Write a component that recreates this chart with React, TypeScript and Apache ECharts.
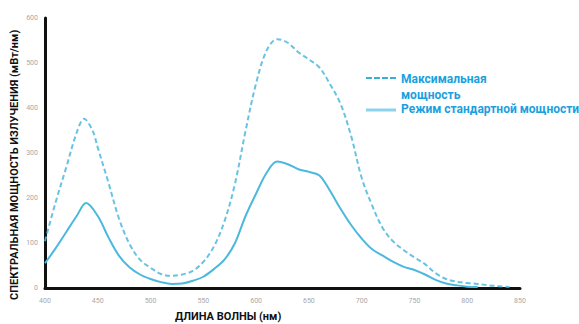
import React, { useEffect, useRef } from "react";
import * as echarts from "echarts";

const xTicks = [400, 450, 500, 550, 600, 650, 700, 750, 800, 850];
const yTicks = [0, 100, 200, 300, 400, 500, 600];

const maxPowerWl = [400, 410, 420, 430, 437, 445, 450, 460, 470, 480, 490, 500, 510, 520, 530, 540, 550, 560, 570, 580, 590, 600, 610, 620, 630, 640, 650, 660, 670, 680, 690, 700, 710, 720, 730, 740, 750, 760, 770, 780, 790, 800, 810, 820, 830, 840];
const maxPowerVal = [104, 190, 267, 345, 376, 350, 312, 235, 155, 98, 63, 45, 31, 27, 30, 38, 58, 92, 148, 232, 349, 455, 528, 553, 545, 524, 508, 490, 453, 409, 338, 245, 183, 133, 103, 84, 68, 53, 33, 20, 14, 11, 9, 6, 4, 2];

const stdPowerWl = [400, 410, 420, 430, 439, 450, 460, 470, 480, 490, 500, 510, 520, 530, 540, 550, 560, 570, 580, 590, 600, 610, 620, 630, 640, 650, 660, 670, 680, 690, 700, 710, 720, 730, 740, 750, 760, 770, 780, 790, 800, 810];
const stdPowerVal = [55, 88, 124, 160, 189, 160, 113, 72, 46, 30, 20, 13, 9, 10, 16, 25, 42, 63, 100, 160, 210, 256, 281, 275, 264, 258, 250, 216, 176, 140, 110, 86, 72, 58, 47, 40, 30, 18, 10, 6, 3, 2];

const seriesNames = ["Максимальная мощность", "Режим стандартной мощности"];

export default function App() {
  const ref = useRef<HTMLDivElement>(null);
  useEffect(() => {
    if (!ref.current) return;
    const chart = echarts.init(ref.current, null, { renderer: "svg" });
    const font = "Roboto, 'Noto Sans', sans-serif";
    chart.setOption({
      animation: false,
      backgroundColor: "#ffffff",
      grid: { left: 45, right: 59, top: 18, bottom: 36 },
      xAxis: {
        type: "value",
        min: xTicks[0],
        max: xTicks[xTicks.length - 1],
        interval: 50,
        axisLine: { show: true, lineStyle: { color: "#111", width: 3 } },
        axisTick: { show: false },
        splitLine: { show: false },
        axisLabel: { color: "#a8a8a8", fontSize: 7, margin: 9, fontFamily: font },
      },
      yAxis: {
        type: "value",
        min: yTicks[0],
        max: yTicks[yTicks.length - 1],
        interval: 100,
        axisLine: { show: true, lineStyle: { color: "#111", width: 3 } },
        axisTick: { show: false },
        splitLine: { show: false },
        axisLabel: { color: "#a8a8a8", fontSize: 7, margin: 7, fontFamily: font },
      },
      series: [
        {
          name: seriesNames[0],
          type: "line",
          smooth: 0.35,
          symbol: "none",
          data: maxPowerWl.map((w, i) => [w, maxPowerVal[i]]),
          lineStyle: { color: "#4db8de", width: 2, type: [5, 3], opacity: 0.85 },
        },
        {
          name: seriesNames[1],
          type: "line",
          smooth: 0.35,
          symbol: "none",
          data: stdPowerWl.map((w, i) => [w, stdPowerVal[i]]),
          lineStyle: { color: "#4db8de", width: 2 },
        },
      ],
      graphic: [
        {
          type: "line",
          shape: { x1: 366, y1: 78, x2: 396, y2: 78 },
          style: { stroke: "#3aaed8", lineWidth: 2, lineDash: [6, 2] },
        },
        {
          type: "text",
          left: 401,
          top: 71,
          style: {
            text: "Максимальная\nмощность",
            fill: "#1aa0de",
            font: `bold 12px ${font}`,
            lineHeight: 16,
          },
        },
        {
          type: "line",
          shape: { x1: 366, y1: 110, x2: 396, y2: 110 },
          style: { stroke: "#8dd2ec", lineWidth: 3 },
        },
        {
          type: "text",
          left: 401,
          top: 103,
          style: {
            text: seriesNames[1],
            fill: "#1aa0de",
            font: `bold 12px ${font}`,
          },
        },
        {
          type: "text",
          left: 175,
          top: 311,
          style: {
            text: "ДЛИНА ВОЛНЫ (нм)",
            fill: "#111",
            font: `bold 11px ${font}`,
          },
        },
        {
          type: "text",
          x: 9,
          y: 300,
          rotation: Math.PI / 2,
          style: {
            text: "СПЕКТРАЛЬНАЯ МОЩНОСТЬ ИЗЛУЧЕНИЯ (мВт/нм)",
            fill: "#111",
            font: `bold 11px ${font}`,
            align: "left",
            verticalAlign: "top",
          },
        },
      ],
    });
    return () => chart.dispose();
  }, []);
  return <div ref={ref} style={{ width: 579, height: 324, position: "fixed", left: 0, top: 0 }} />;
}
